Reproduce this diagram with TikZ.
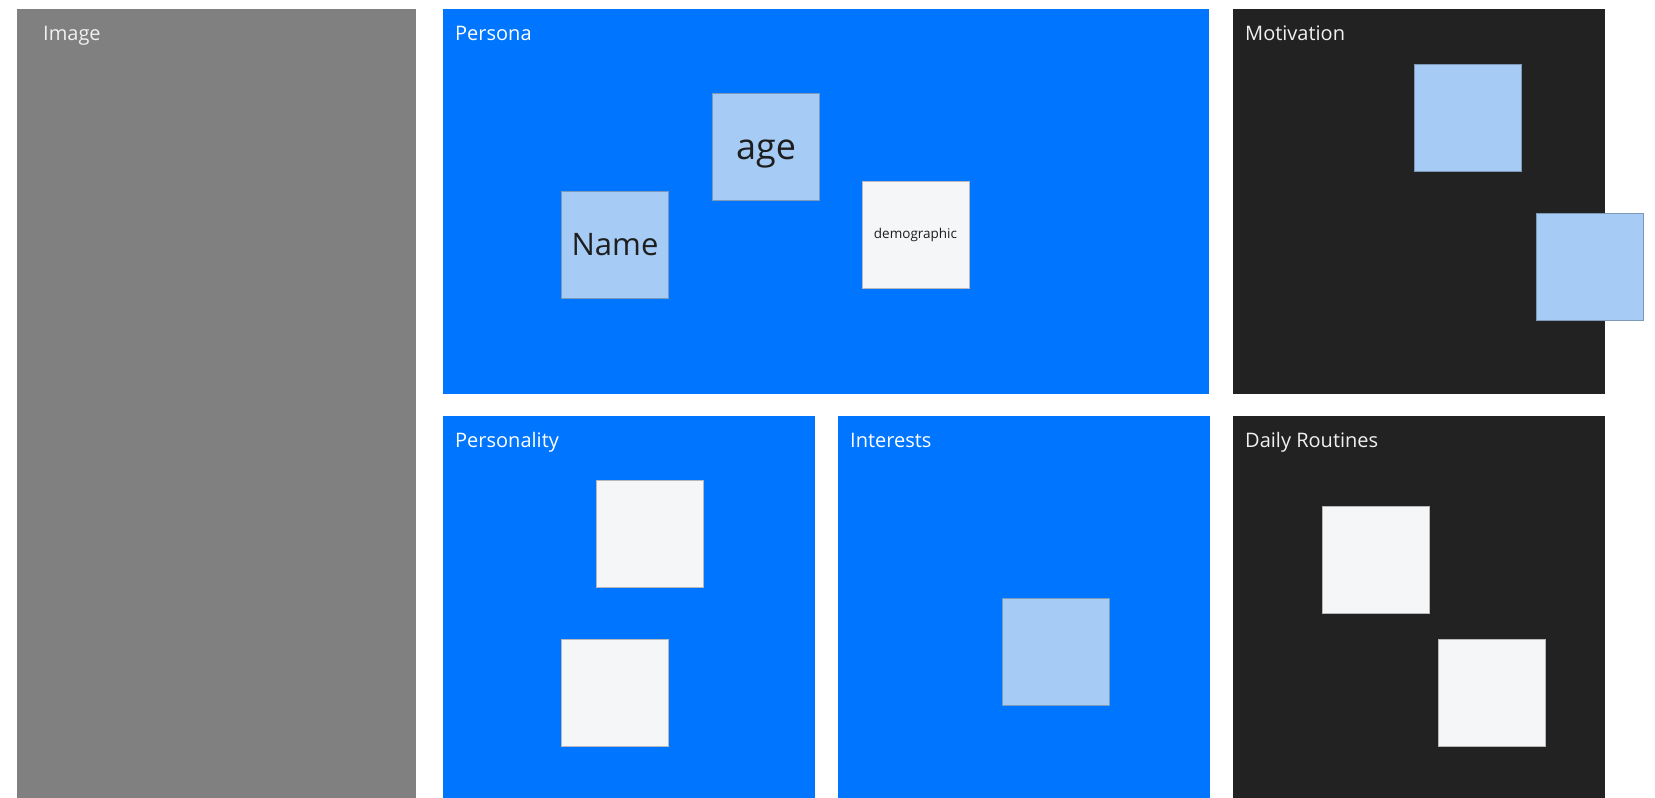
\documentclass[tikz,border=0pt]{standalone}
\usepackage{fontspec}
\setmainfont{Open Sans}
\usepackage{tikz}
\usetikzlibrary{positioning}
\definecolor{boardblue}{HTML}{0075FF}
\definecolor{boarddark}{HTML}{222222}
\definecolor{boardgray}{HTML}{808080}
\definecolor{stickyblue}{HTML}{A6CCF5}
\definecolor{stickywhite}{HTML}{F5F6F8}
\definecolor{stickyink}{HTML}{1E1E1E}
\tikzset{
  panel/.style={anchor=north west,inner sep=0pt,outer sep=0pt,minimum width=372pt,minimum height=382pt},
  paneltitle/.style={anchor=base west,inner sep=0pt,font=\fontsize{20}{24}\selectfont,text=white},
  sticky/.style={fill=#1,draw=#1!75!black,line width=0.3pt,minimum width=107pt,minimum height=107pt,inner sep=0pt,text=stickyink},
}

\begin{document}
\begin{tikzpicture}[x=1pt,y=-1pt]
    \useasboundingbox (0,0) rectangle (1655,798);
    \fill[white] (0,0) rectangle (1655,798);
    \node[panel,fill=boardgray,minimum width=399pt,minimum height=790pt] (image) at (17,9) {};
    \node[panel,fill=boardblue,minimum width=766pt,minimum height=385pt] (persona) at (443,8.5) {};
    \node[panel,fill=boarddark,minimum height=385pt] (motivation) at (1233,8.5) {};
    \node[panel,fill=boardblue] (personality) at (443,416) {};
    \node[panel,fill=boardblue] (interests) at (838,416) {};
    \node[panel,fill=boarddark] (routines) at (1233,416) {};
    \node[paneltitle,text=white!88!gray] (imageT) at ([xshift=26pt,yshift=-31pt]image.north west) {Image};
    \node[paneltitle] (personaT) at ([xshift=12pt,yshift=-31.5pt]persona.north west) {Persona};
    \node[paneltitle,text=white!88!gray] (motivationT) at ([xshift=12pt,yshift=-31.5pt]motivation.north west) {Motivation};
    \node[paneltitle] (personalityT) at ([xshift=12pt,yshift=-31.5pt]personality.north west) {Personality};
    \node[paneltitle] (interestsT) at ([xshift=12pt,yshift=-31.5pt]interests.north west) {Interests};
    \node[paneltitle,text=white!88!gray] (routinesT) at ([xshift=12pt,yshift=-31.5pt]routines.north west) {Daily Routines};
    \node[sticky=stickyblue,font=\fontsize{36}{42}\selectfont,text depth=0pt,text height=26pt] (age) at (766,146.5) {age};
    \node[sticky=stickyblue,font=\fontsize{31}{36}\selectfont] (name) at (615,244.5) {Name};
    \node[sticky=stickywhite,font=\fontsize{13.5}{16}\selectfont] (demographic) at (915.5,235) {demographic};
    \node[sticky=stickyblue] (motiveA) at (1467.5,118) {};
    \node[sticky=stickyblue] (motiveB) at (1589.5,267) {};
    \node[sticky=stickywhite] (traitA) at (649.5,533.5) {};
    \node[sticky=stickywhite] (traitB) at (615,693) {};
    \node[sticky=stickyblue] (interestA) at (1055.5,652) {};
    \node[sticky=stickywhite] (routineA) at (1376,560) {};
    \node[sticky=stickywhite] (routineB) at (1492,693) {};
  \end{tikzpicture}
\end{document}
